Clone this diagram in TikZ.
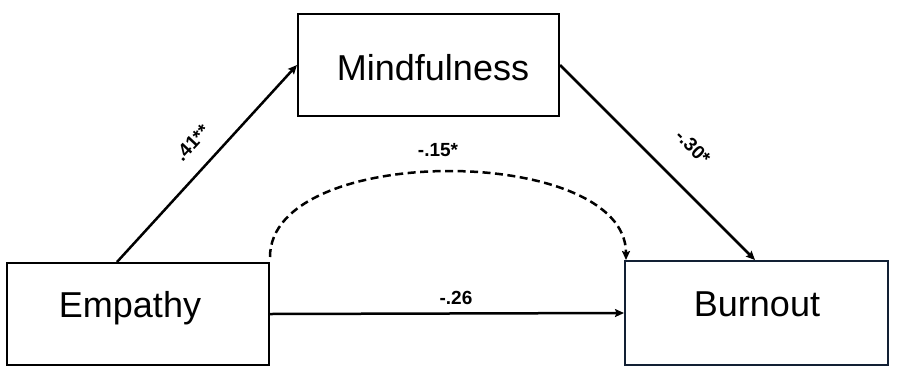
\documentclass[tikz,border=0pt]{standalone}
\usepackage{fontspec}
\setmainfont{Liberation Sans}
\usetikzlibrary{arrows.meta}
\begin{document}
\begin{tikzpicture}[x=1pt,y=-1pt,
  varbox/.style={draw=black,line width=2pt,rectangle,inner sep=0pt,minimum width=262pt,minimum height=102pt},
  vartext/.style={anchor=base,inner sep=0pt,font=\fontsize{36}{40}\selectfont},
  coef/.style={inner sep=0pt,font=\fontsize{19}{21}\selectfont\bfseries},
  path/.style={line width=2.5pt,-{Stealth[length=9pt,width=8pt,inset=1.5pt]}},
  dashpath/.style={path,dash pattern=on 8pt off 4.5pt}
]
\useasboundingbox (0,0) rectangle (897,373);
% boxes
\node[varbox] (emp) at (138,314) {};
\node[varbox,minimum width=261pt] (mind) at (428.5,65) {};
\node[varbox,draw={rgb,255:red,18;green,32;blue,52},minimum width=263pt,minimum height=104pt] (bur) at (756.5,313) {};
% texts
\node[vartext] (empT) at (130,317) {Empathy};
\node[vartext] (mindT) at (433,80) {Mindfulness};
\node[vartext] (burT) at (757,316) {Burnout};
% connectors
\coordinate (empA) at ([xshift=-21pt]emp.north);
\draw[path] (empA) -- (mind.west);
\draw[path] (mind.east) -- ([xshift=-1.5pt]bur.north);
\draw[path] (emp.east) -- (bur.west);
\coordinate (dS) at ([yshift=5pt]emp.north east);
\coordinate (dE) at ([xshift=2pt]bur.north west);
\draw[dashpath] (dS) .. controls +(0,-115) and +(0,-116) .. (dE);
% coefficients
\node[coef,rotate=47] (c1) at (192,143) {.41**};
\node[coef,rotate=-45] (c2) at (693,147) {-.30*};
\node[coef] (c3) at (438,150) {-.15*};
\node[coef] (c4) at (456,298) {-.26};
\end{tikzpicture}
\end{document}
